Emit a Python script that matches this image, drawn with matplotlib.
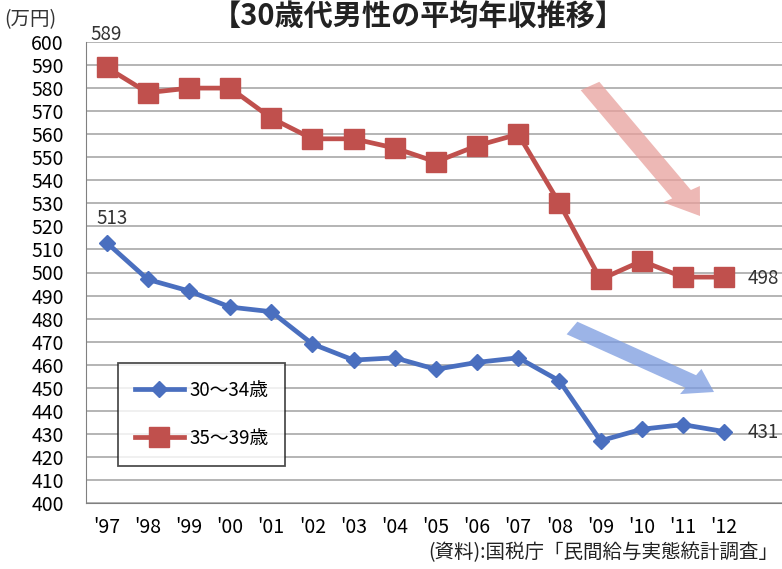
import matplotlib
matplotlib.use("Agg")
import matplotlib.pyplot as plt
from matplotlib.patches import FancyArrow

plt.rcParams['font.family'] = ['Noto Sans CJK JP', 'DejaVu Sans']

# ---- data ----
years = ["'97", "'98", "'99", "'00", "'01", "'02", "'03", "'04",
         "'05", "'06", "'07", "'08", "'09", "'10", "'11", "'12"]
age_30_34 = [513, 497, 492, 485, 483, 469, 462, 463, 458, 461, 463, 453, 427, 432, 434, 431]
age_35_39 = [589, 578, 580, 580, 567, 558, 558, 554, 548, 555, 560, 530, 497, 505, 498, 498]
series_names = ["30〜34歳", "35〜39歳"]

W, H = 782, 569
fig = plt.figure(figsize=(W / 100, H / 100), dpi=100)
# plot area in pixels: left 86, top 42, bottom 503, runs off the right edge
ax = fig.add_axes([86 / W, 1 - 503 / H, (W - 86) / W, (503 - 42) / H])

x = list(range(len(years)))
blue = "#4a6fbf"
red = "#c0504d"

ax.plot(x, age_30_34, color=blue, lw=3.4, marker="D", ms=8, label=series_names[0], zorder=3)
ax.plot(x, age_35_39, color=red, lw=3.4, marker="s", ms=14, label=series_names[1], zorder=3)

ax.set_ylim(400, 600)
ax.set_yticks(range(400, 601, 10))
ax.set_xlim(-0.5, (W - 106) / 41.2)
ax.set_xticks(x)
ax.set_xticklabels(years, fontsize=14)
ax.tick_params(axis="y", labelsize=14, length=0, pad=16)
ax.tick_params(axis="x", length=0, pad=10)
ax.grid(axis="y", color="#a0a0a0", lw=1.1)
ax.set_axisbelow(True)
for s in ["top", "right"]:
    ax.spines[s].set_visible(False)
ax.spines["left"].set_color("#808080")
ax.spines["bottom"].set_color("#808080")

# data labels
lab = dict(fontsize=13.5, color="#333333", textcoords="offset points", va="center")
ax.annotate("589", (0, 589), xytext=(0, 24), ha="center", annotation_clip=False, **lab)
ax.annotate("513", (0, 513), xytext=(4, 17), ha="center", **lab)
ax.annotate("498", (15, 498), xytext=(17, -1), ha="left", **lab)
ax.annotate("431", (15, 431), xytext=(17, -1), ha="left", **lab)

# trend arrows
fig.patches.append(FancyArrow(590 / W, 1 - 86 / H, 110 / W, -130 / H, width=0.028,
                              head_width=0.055, head_length=0.045, length_includes_head=True,
                              transform=fig.transFigure, color="#e8a09c", alpha=0.75, lw=0))
fig.patches.append(FancyArrow(572 / W, 1 - 328 / H, 142 / W, -64 / H, width=0.026,
                              head_width=0.052, head_length=0.035, length_includes_head=True,
                              transform=fig.transFigure, color="#7b9be0", alpha=0.75, lw=0))

leg = ax.legend(loc="upper left", bbox_to_anchor=((118 - 86) / (W - 86), 1 - (363 - 42) / 461),
                fontsize=13.5, frameon=True, fancybox=False, edgecolor="#222222",
                handlelength=2.6, labelspacing=1.45, borderpad=0.9, handletextpad=0.3,
                borderaxespad=0)
leg.get_frame().set_linewidth(1.3)

fig.text(418 / W, 1 - 16 / H, "【30歳代男性の平均年収推移】", fontsize=21, fontweight="bold",
         ha="center", va="center", color="#222222")
fig.text(4 / W, 1 - 20 / H, "(万円)", fontsize=14, ha="left", va="center", color="#333333")
fig.text(778 / W, 1 - 553 / H, "(資料):国税庁「民間給与実態統計調査」", fontsize=14,
         ha="right", va="center", color="#222222")

fig.savefig("out.png", dpi=100)
